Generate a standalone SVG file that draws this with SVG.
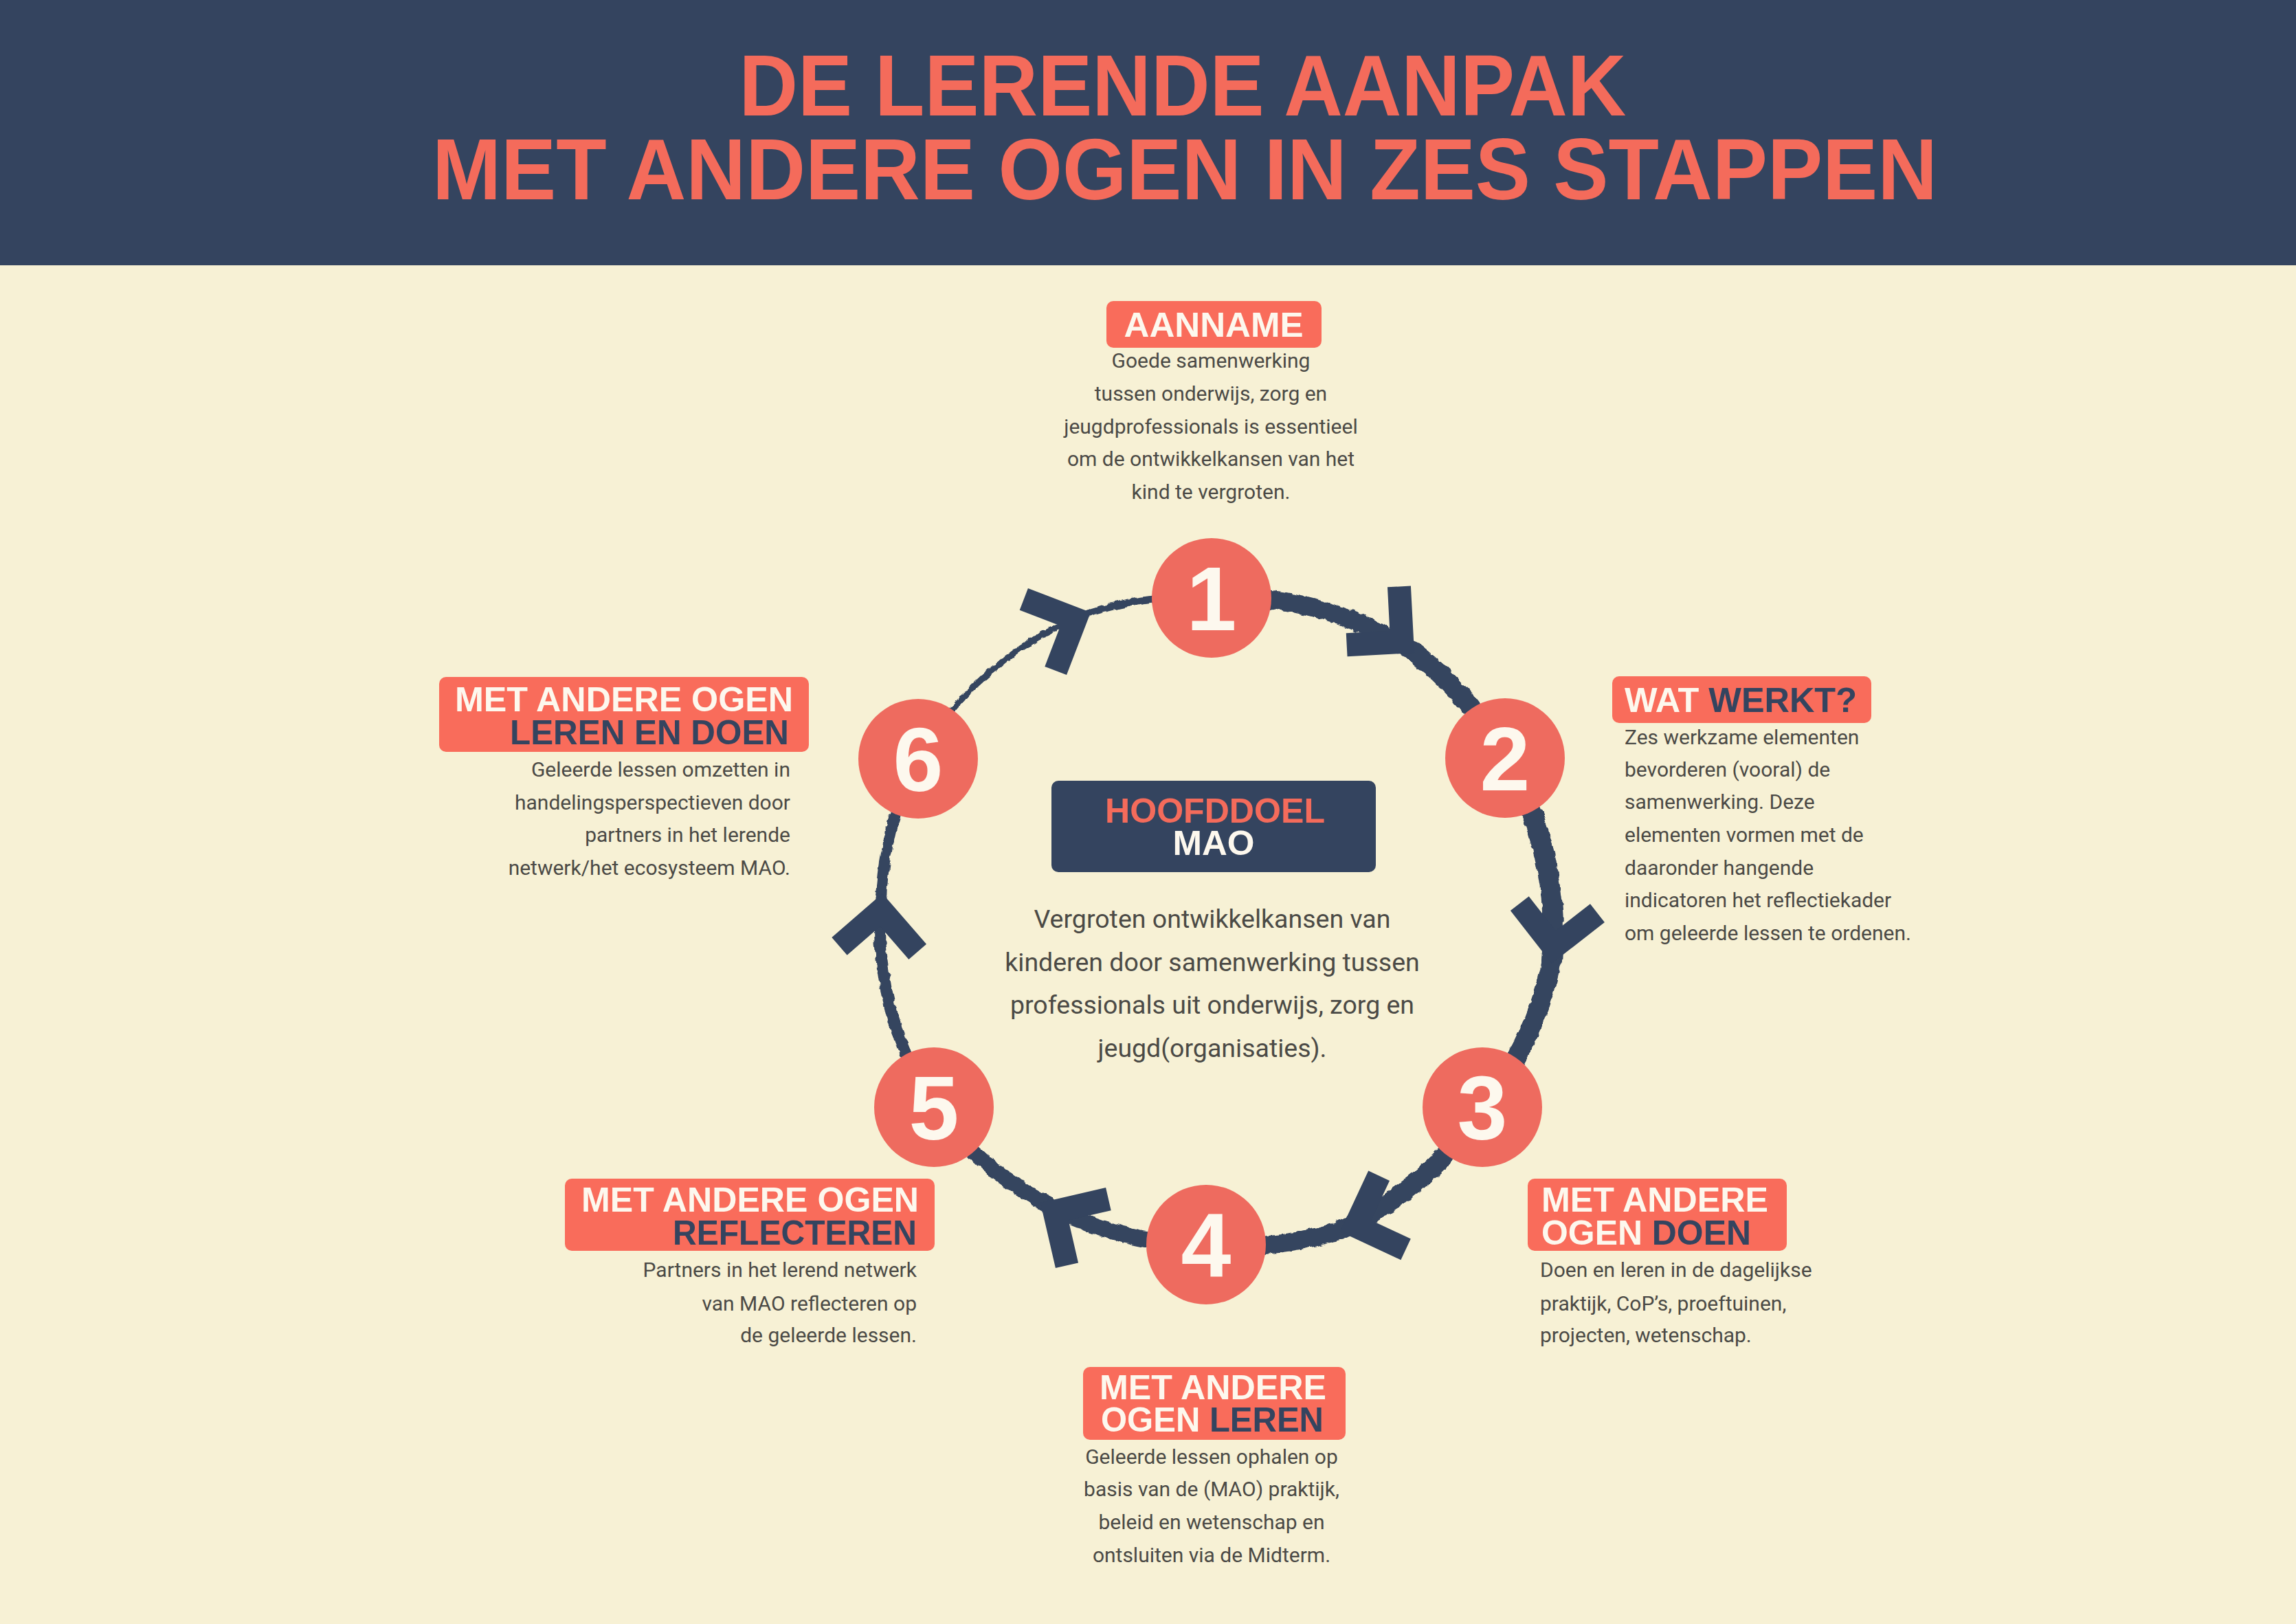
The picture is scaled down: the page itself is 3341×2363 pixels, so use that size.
<svg xmlns="http://www.w3.org/2000/svg" width="3341" height="2363" viewBox="0 0 3341 2363">
<defs>
<style>
.bg{fill:#f7f1d5}
.band{fill:#34445f}
.title{font-family:"Liberation Sans",Arial,sans-serif;font-weight:700;font-size:126px;fill:#f46b5b}
.disc{fill:#ee6b5f}
.num{font-family:"Liberation Sans",Arial,sans-serif;font-weight:700;font-size:131px;fill:#fdf8ee;text-anchor:middle}
.lbl{fill:#f96c5b}
.hd{font-family:"Liberation Sans",Arial,sans-serif;font-weight:700;font-size:50px;fill:#fdf8ee}
.nv{fill:#34445f}
.body{font-family:Roboto,"Liberation Sans",sans-serif;font-size:30px;fill:#4b4a46}
.mid{text-anchor:middle}
.end{text-anchor:end}
.big{font-size:37.5px}
.ring{fill:none;stroke:#34445f;stroke-linecap:round}
.chev{fill:none;stroke:#34445f;stroke-width:34;stroke-linejoin:miter;stroke-linecap:butt}
</style>
<filter id="rough" x="-10%" y="-10%" width="120%" height="120%">
<feTurbulence type="fractalNoise" baseFrequency="0.09" numOctaves="2" seed="4"/>
<feDisplacementMap in="SourceGraphic" scale="7" xChannelSelector="R" yChannelSelector="G"/>
</filter>
<path id="chevron" class="chev" d="M -81,-57 L -24,0 L -81,57"/>
</defs>

<rect class="bg" x="0" y="0" width="3341" height="2363"/>

<g id="header">
<rect class="band" x="0" y="0" width="3341" height="386"/>
<text class="title" x="1721" y="168" text-anchor="middle" textLength="1291" lengthAdjust="spacingAndGlyphs">DE LERENDE AANPAK</text>
<text class="title" x="1724" y="290" text-anchor="middle" textLength="2190" lengthAdjust="spacingAndGlyphs">MET ANDERE OGEN IN ZES STAPPEN</text>
</g>

<g id="connectors">
<g filter="url(#rough)">
<path class="ring" stroke-width="26" d="M 1763,870 A 485 485 0 0 1 2056,948"/>
<path class="ring" stroke-width="28" d="M 2056,948 A 485 485 0 0 1 2190,1103"/>
<path class="ring" stroke-width="30" d="M 2190,1103 A 485 485 0 0 1 2258,1398"/>
<path class="ring" stroke-width="28" d="M 2258,1398 A 485 485 0 0 1 2157,1611"/>
<path class="ring" stroke-width="28" d="M 2157,1611 A 485 485 0 0 1 1950,1790"/>
<path class="ring" stroke-width="26" d="M 1950,1790 A 485 485 0 0 1 1755,1811"/>
<path class="ring" stroke-width="24" d="M 1755,1811 A 485 485 0 0 1 1515,1748"/>
<path class="ring" stroke-width="22" d="M 1515,1748 A 485 485 0 0 1 1359,1611"/>
<path class="ring" stroke-width="17" d="M 1359,1611 A 485 485 0 0 1 1282,1306"/>
<path class="ring" stroke-width="16" d="M 1282,1306 A 485 485 0 0 1 1336,1104"/>
<path class="ring" stroke-width="9" d="M 1336,1104 A 485 485 0 0 1 1587,891"/>
<path class="ring" stroke-width="11" d="M 1587,891 A 485 485 0 0 1 1763,870"/>
</g>
<use href="#chevron" transform="translate(2058,950) rotate(42)"/>
<use href="#chevron" transform="translate(2258,1402) rotate(97)"/>
<use href="#chevron" transform="translate(1950,1792) rotate(160)"/>
<use href="#chevron" transform="translate(1514,1750) rotate(212)"/>
<use href="#chevron" transform="translate(1284,1300) rotate(-86)"/>
<use href="#chevron" transform="translate(1587,891) rotate(-24)"/>
</g>

<g id="center">
<rect class="band" x="1530" y="1136" width="472" height="133" rx="10"/>
<text class="hd" x="1768" y="1197" text-anchor="middle" style="fill:#f46b5b" textLength="320" lengthAdjust="spacingAndGlyphs">HOOFDDOEL</text>
<text class="hd" x="1766" y="1244" text-anchor="middle" textLength="119" lengthAdjust="spacingAndGlyphs">MAO</text>
<text class="body big mid" x="1764" y="1350">Vergroten ontwikkelkansen van</text>
<text class="body big mid" x="1764" y="1413">kinderen door samenwerking tussen</text>
<text class="body big mid" x="1764" y="1475">professionals uit onderwijs, zorg en</text>
<text class="body big mid" x="1764" y="1538">jeugd(organisaties).</text>
</g>

<g id="step1">
<circle class="disc" cx="1763" cy="870" r="87"/>
<text class="num" x="1763" y="917">1</text>
<rect class="lbl" x="1610" y="438" width="313" height="68" rx="10"/>
<text class="hd" x="1766" y="490" text-anchor="middle" textLength="261" lengthAdjust="spacingAndGlyphs">AANNAME</text>
<text class="body mid" x="1762" y="535">Goede samenwerking</text>
<text class="body mid" x="1762" y="583">tussen onderwijs, zorg en</text>
<text class="body mid" x="1762" y="631">jeugdprofessionals is essentieel</text>
<text class="body mid" x="1762" y="678">om de ontwikkelkansen van het</text>
<text class="body mid" x="1762" y="726">kind te vergroten.</text>
</g>

<g id="step2">
<circle class="disc" cx="2190" cy="1103" r="87"/>
<text class="num" x="2190" y="1150">2</text>
<rect class="lbl" x="2346" y="984" width="377" height="68" rx="10"/>
<text class="hd" x="2364" y="1036" textLength="338" lengthAdjust="spacingAndGlyphs">WAT <tspan class="nv">WERKT?</tspan></text>
<text class="body" x="2364" y="1083">Zes werkzame elementen</text>
<text class="body" x="2364" y="1130">bevorderen (vooral) de</text>
<text class="body" x="2364" y="1177">samenwerking. Deze</text>
<text class="body" x="2364" y="1225">elementen vormen met de</text>
<text class="body" x="2364" y="1273">daaronder hangende</text>
<text class="body" x="2364" y="1320">indicatoren het reflectiekader</text>
<text class="body" x="2364" y="1368">om geleerde lessen te ordenen.</text>
</g>

<g id="step3">
<circle class="disc" cx="2157" cy="1611" r="87"/>
<text class="num" x="2157" y="1658">3</text>
<rect class="lbl" x="2223" y="1715" width="377" height="105" rx="10"/>
<text class="hd" x="2243" y="1763" textLength="330" lengthAdjust="spacingAndGlyphs">MET ANDERE</text>
<text class="hd" x="2243" y="1811" textLength="305" lengthAdjust="spacingAndGlyphs">OGEN <tspan class="nv">DOEN</tspan></text>
<text class="body" x="2241" y="1858">Doen en leren in de dagelijkse</text>
<text class="body" x="2241" y="1907">praktijk, CoP’s, proeftuinen,</text>
<text class="body" x="2241" y="1953">projecten, wetenschap.</text>
</g>

<g id="step4">
<circle class="disc" cx="1755" cy="1811" r="87"/>
<text class="num" x="1755" y="1858">4</text>
<rect class="lbl" x="1576" y="1989" width="382" height="106" rx="10"/>
<text class="hd" x="1600" y="2036" textLength="330" lengthAdjust="spacingAndGlyphs">MET ANDERE</text>
<text class="hd" x="1602" y="2083" textLength="324" lengthAdjust="spacingAndGlyphs">OGEN <tspan class="nv">LEREN</tspan></text>
<text class="body mid" x="1763" y="2130">Geleerde lessen ophalen op</text>
<text class="body mid" x="1763" y="2177">basis van de (MAO) praktijk,</text>
<text class="body mid" x="1763" y="2225">beleid en wetenschap en</text>
<text class="body mid" x="1763" y="2273">ontsluiten via de Midterm.</text>
</g>

<g id="step5">
<circle class="disc" cx="1359" cy="1611" r="87"/>
<text class="num" x="1359" y="1658">5</text>
<rect class="lbl" x="822" y="1715" width="538" height="105" rx="10"/>
<text class="hd" x="846" y="1763" textLength="491" lengthAdjust="spacingAndGlyphs">MET ANDERE OGEN</text>
<text class="hd nv" x="979" y="1811" textLength="355" lengthAdjust="spacingAndGlyphs">REFLECTEREN</text>
<text class="body end" x="1334" y="1858">Partners in het lerend netwerk</text>
<text class="body end" x="1334" y="1907">van MAO reflecteren op</text>
<text class="body end" x="1334" y="1953">de geleerde lessen.</text>
</g>

<g id="step6">
<circle class="disc" cx="1336" cy="1104" r="87"/>
<text class="num" x="1336" y="1151">6</text>
<rect class="lbl" x="639" y="985" width="538" height="109" rx="10"/>
<text class="hd" x="662" y="1035" textLength="492" lengthAdjust="spacingAndGlyphs">MET ANDERE OGEN</text>
<text class="hd nv" x="742" y="1083" textLength="406" lengthAdjust="spacingAndGlyphs">LEREN EN DOEN</text>
<text class="body end" x="1150" y="1130">Geleerde lessen omzetten in</text>
<text class="body end" x="1150" y="1178">handelingsperspectieven door</text>
<text class="body end" x="1150" y="1225">partners in het lerende</text>
<text class="body end" x="1150" y="1273">netwerk/het ecosysteem MAO.</text>
</g>
</svg>
